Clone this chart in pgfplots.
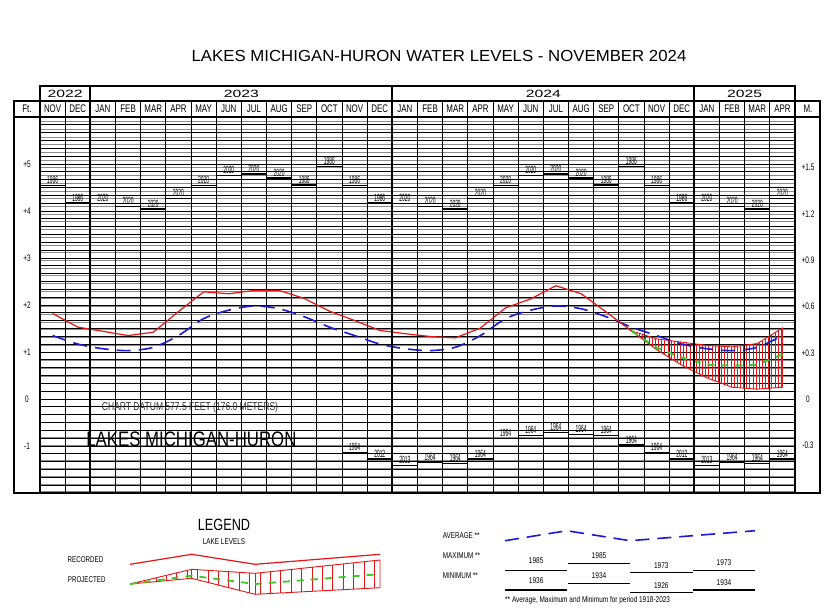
\documentclass[border=0pt]{standalone}
\usepackage{fontspec}
\setmainfont{Liberation Sans}
\newfontfamily\fA[FakeStretch=0.72]{Liberation Sans}
\newfontfamily\fB[FakeStretch=0.47]{Liberation Sans}
\newfontfamily\fC[FakeStretch=0.68]{Liberation Sans}
\newfontfamily\fW[FakeStretch=1.5]{Liberation Sans}
\usepackage{graphicx}
\usepackage{pgfplots}
\usepackage{pgfplotstable}
\pgfplotsset{compat=1.18}
\usetikzlibrary{patterns.meta}
\newcommand\sx[3]{\scalebox{#1}[1]{\fontsize{#2}{#2}\selectfont #3}}
\definecolor{recred}{RGB}{230,20,20}
\definecolor{avgblue}{RGB}{25,25,215}
\definecolor{projgreen}{RGB}{60,200,40}

\pgfplotstableread{
x y
0.5 1.82
1.5 1.53
2.5 1.44
3.5 1.35
4.5 1.42
5.5 1.86
6.5 2.28
7.5 2.24
8.5 2.31
9.5 2.31
10.5 2.14
11.5 1.87
12.5 1.67
13.5 1.46
14.5 1.39
15.5 1.33
16.5 1.30
17.5 1.51
18.5 1.94
19.5 2.13
20.5 2.41
21.5 2.24
22.5 1.85
23.5 1.45
}\recorded

\pgfplotstableread{
x y
0.5 1.35
1.5 1.17
2.5 1.07
3.5 1.03
4.5 1.10
5.5 1.35
6.5 1.71
7.5 1.89
8.5 1.98
9.5 1.92
10.5 1.75
11.5 1.53
12.5 1.35
13.5 1.17
14.5 1.07
15.5 1.03
16.5 1.10
17.5 1.35
18.5 1.71
19.5 1.89
20.5 1.98
21.5 1.92
22.5 1.75
23.5 1.53
24.5 1.35
25.5 1.17
26.5 1.07
27.5 1.03
28.5 1.10
29.5 1.35
}\average

\pgfplotstableread{
x y
23.5 1.45
24.5 1.28
25.5 1.21
26.5 1.14
27.5 1.11
28.5 1.18
29.5 1.51
29.5 0.25
28.5 0.21
27.5 0.25
26.5 0.45
25.5 0.72
24.5 1.05
23.5 1.45
}\projband

\pgfplotstableread{
x y
23.5 1.45
24.5 1.09
25.5 0.88
26.5 0.73
27.5 0.71
28.5 0.73
29.5 0.95
}\projmid

\pgfplotstableread{
x y lab
0.5 4.54 1986
1.5 4.17 1986
2.5 4.16 2020
3.5 4.10 2020
4.5 4.04 2020
5.5 4.26 2020
6.5 4.54 2020
7.5 4.76 2020
8.5 4.79 2020
9.5 4.70 2020
10.5 4.55 1986
11.5 4.95 1986
12.5 4.54 1986
13.5 4.17 1986
14.5 4.16 2020
15.5 4.10 2020
16.5 4.04 2020
17.5 4.26 2020
18.5 4.54 2020
19.5 4.76 2020
20.5 4.79 2020
21.5 4.70 2020
22.5 4.55 1986
23.5 4.95 1986
24.5 4.54 1986
25.5 4.17 1986
26.5 4.16 2020
27.5 4.10 2020
28.5 4.04 2020
29.5 4.26 2020
}\highs

\pgfplotstableread{
x y lab
12.5 -1.14 1964
13.5 -1.28 2012
14.5 -1.41 2013
15.5 -1.34 1964
16.5 -1.37 1964
17.5 -1.28 1964
18.5 -0.84 1964
19.5 -0.78 1964
20.5 -0.71 1964
21.5 -0.76 1964
22.5 -0.78 1964
23.5 -0.98 1964
24.5 -1.14 1964
25.5 -1.28 2012
26.5 -1.41 2013
27.5 -1.34 1964
28.5 -1.37 1964
29.5 -1.28 1964
}\lows

\begin{document}
\begin{tikzpicture}
\fill[white] (0,0) rectangle (827pt,-611pt);
\useasboundingbox (0,0) rectangle (827pt,-611pt);

% metric grid (gray) and metre labels
\begin{axis}[at={(40pt,-493pt)}, anchor=south west, width=755pt, height=376pt, scale only axis,
  xmin=0, xmax=30, ymin=-0.6096, ymax=1.8288,
  hide x axis, axis y line*=right, y axis line style={draw=none},
  ytick={-0.6,-0.3,0,0.3,0.6,0.9,1.2,1.5,1.8},
  yticklabels={,-0.3,0,+0.3,+0.6,+0.9,+1.2,+1.5,},
  minor y tick num=5, ymajorgrids, yminorgrids,
  major grid style={black!45, line width=0.6pt},
  minor grid style={black!45, line width=0.6pt},
  major tick length=0pt, minor tick length=0pt,
  yticklabel style={font=\fC\fontsize{9.5}{9.5}\selectfont, anchor=center, xshift=13pt},
]
\addplot[draw=none] coordinates {(0,0) (30,1)};
\end{axis}

% main chart
\begin{axis}[at={(40pt,-493pt)}, anchor=south west, width=755pt, height=376pt, scale only axis,
  xmin=0, xmax=30, ymin=-2, ymax=6,
  xtick={1,...,29}, xticklabels={}, xmajorgrids,
  ytick={-2,...,6}, yticklabels={,-1,0,+1,+2,+3,+4,+5,},
  minor y tick num=5, ymajorgrids, yminorgrids,
  major grid style={black, line width=0.7pt},
  minor grid style={black, line width=0.7pt},
  major tick length=0pt, minor tick length=0pt,
  axis line style={line width=1.6pt},
  yticklabel style={font=\fC\fontsize{9.5}{9.5}\selectfont, anchor=center, xshift=-13pt},
]
% record highs
\addplot[draw=none, mark=none, nodes near coords, point meta=explicit symbolic,
  nodes near coords style={font=\fB\fontsize{10.5}{10.5}\selectfont, anchor=south, inner sep=1.5pt, black},
  error bars/.cd, x dir=both, x fixed=0.5, error mark=none,
  error bar style={draw=black, solid, line width=1.4pt}] table[meta=lab]{\highs};
% record lows
\addplot[draw=none, mark=none, nodes near coords, point meta=explicit symbolic,
  nodes near coords style={font=\fB\fontsize{10.5}{10.5}\selectfont, anchor=south, inner sep=1.5pt, black},
  error bars/.cd, x dir=both, x fixed=0.5, error mark=none,
  error bar style={draw=black, solid, line width=1.4pt}] table[meta=lab]{\lows};
% projection band
\addplot[draw=recred, line width=0.9pt, pattern={Lines[angle=90,distance=3.15pt,line width=0.6pt]}, pattern color=recred] table{\projband} -- cycle;
% average
\addplot[avgblue, line width=1.6pt, dash pattern=on 14pt off 8pt, smooth, tension=0.5] table{\average};
% projected most probable
\addplot[projgreen, line width=2pt, dash pattern=on 7pt off 7pt] table{\projmid};
% recorded
\addplot[recred, line width=1.2pt] table{\recorded};
\end{axis}

% legend drawings
\begin{axis}[at={(0pt,-611pt)}, anchor=south west, width=827pt, height=611pt, scale only axis,
  xmin=0, xmax=827, ymin=0, ymax=611, y dir=reverse, axis lines=none, clip=false]
\addplot[recred, line width=1.2pt] coordinates {(130,564.3) (191.7,554.3) (255,564.3) (380,554.3)};
\addplot[draw=recred, line width=0.9pt, pattern={Lines[angle=90,distance=10.4pt,line width=0.8pt]}, pattern color=recred]
  coordinates {(130,584) (191.7,569.3) (255,573.3) (380,560) (380,587.7) (255,594.3) (191.7,578.3) (130,584)} -- cycle;
\addplot[recred, line width=0.9pt] coordinates {(191.7,569.3) (191.7,578.3)};
\addplot[recred, line width=0.9pt] coordinates {(255,573.3) (255,594.3)};
\addplot[projgreen, line width=1.8pt, dash pattern=on 7pt off 7pt] coordinates {(130,584) (191.7,575.7) (255,584) (378,574.3)};
\addplot[avgblue, line width=1.6pt, dash pattern=on 14pt off 8pt] coordinates {(505,540.7) (566.7,530.7) (630,540.7) (755,530.7)};
\addplot[draw=none, mark=none, error bars/.cd, x dir=both, x fixed=31.2, error mark=none,
  error bar style={draw=black, solid, line width=1.2pt}] coordinates {(536.2,570.3) (599,563.3) (661.3,572.7) (724,570.3)};
\addplot[draw=none, mark=none, error bars/.cd, x dir=both, x fixed=31.2, error mark=none,
  error bar style={draw=black, solid, line width=1.2pt}] coordinates {(536.2,590) (599,583.3) (661.3,592.7) (724,590)};
\end{axis}

\begin{scope}[x=1pt, y=-1pt]
% title
\node[inner sep=0] at (439,56.3) {\sx{1.05}{16}{LAKES MICHIGAN-HURON WATER LEVELS - NOVEMBER 2024}};
% frames
\draw[line width=1.5pt] (14,101) rectangle (40,493);
\draw[line width=1.5pt] (14,117) -- (40,117);
\draw[line width=1.5pt] (795,101) rectangle (820,493);
\draw[line width=1.5pt] (795,117) -- (820,117);
\draw[line width=1.5pt] (40,86) rectangle (795,117);
\draw[line width=1.2pt] (40,101) -- (795,101);
\foreach \i in {1,...,29} {
  \pgfmathsetmacro\xx{40+\i*25.16667}
  \draw[line width=0.8pt] (\xx,101) -- (\xx,117);
}
\foreach \xx in {90.333,392.333,694.333} {
  \draw[line width=1.8pt] (\xx,86) -- (\xx,493);
}
\node[inner sep=0] at (27,109) {\fA\fontsize{11}{11}\selectfont Ft.};
\node[inner sep=0] at (808,109) {\fA\fontsize{11}{11}\selectfont M.};
\foreach \m [count=\i from 0] in {NOV,DEC,JAN,FEB,MAR,APR,MAY,JUN,JUL,AUG,SEP,OCT,NOV,DEC,JAN,FEB,MAR,APR,MAY,JUN,JUL,AUG,SEP,OCT,NOV,DEC,JAN,FEB,MAR,APR} {
  \pgfmathsetmacro\xx{40+(\i+0.5)*25.16667}
  \node[inner sep=0] at (\xx,109) {\fA\fontsize{11}{11}\selectfont \m};
}
\node[inner sep=0] at (65.2,93.5) {\fW\fontsize{10.5}{10.5}\selectfont 2022};
\node[inner sep=0] at (241.3,93.5) {\fW\fontsize{10.5}{10.5}\selectfont 2023};
\node[inner sep=0] at (543.3,93.5) {\fW\fontsize{10.5}{10.5}\selectfont 2024};
\node[inner sep=0] at (744.7,93.5) {\fW\fontsize{10.5}{10.5}\selectfont 2025};
% chart texts
\node[inner sep=0, text=black!80] at (190,407.3) {\sx{0.74}{11.5}{CHART DATUM 577.5 FEET (176.0 METERS)}};
\node[inner sep=0] at (191.4,439) {\sx{0.80}{21}{LAKES MICHIGAN-HURON}};
% legend texts
\node[inner sep=0] at (224,525) {\sx{0.78}{16.3}{LEGEND}};
\node[inner sep=0] at (224,542) {\sx{0.75}{8.5}{LAKE LEVELS}};
\node[inner sep=0] at (85.5,560) {\sx{0.74}{8.4}{RECORDED}};
\node[inner sep=0] at (86.7,580) {\sx{0.74}{8.4}{PROJECTED}};
\node[inner sep=0, anchor=west] at (442.7,536) {\sx{0.75}{8.4}{AVERAGE **}};
\node[inner sep=0, anchor=west] at (442.7,556) {\sx{0.75}{8.4}{MAXIMUM **}};
\node[inner sep=0, anchor=west] at (442.7,576) {\sx{0.75}{8.4}{MINIMUM **}};
\node[inner sep=0] at (536.2,561) {\sx{0.78}{8.4}{1985}};
\node[inner sep=0] at (599,556) {\sx{0.78}{8.4}{1985}};
\node[inner sep=0] at (661.3,565.7) {\sx{0.78}{8.4}{1973}};
\node[inner sep=0] at (724,562.7) {\sx{0.78}{8.4}{1973}};
\node[inner sep=0] at (536.2,580.7) {\sx{0.78}{8.4}{1936}};
\node[inner sep=0] at (599,575.7) {\sx{0.78}{8.4}{1934}};
\node[inner sep=0] at (661.3,585.3) {\sx{0.78}{8.4}{1926}};
\node[inner sep=0] at (724,582.7) {\sx{0.78}{8.4}{1934}};
\node[inner sep=0, anchor=west] at (505,600.7) {\sx{0.77}{8.4}{** Average, Maximum and Minimum for period 1918-2023}};
\end{scope}
\end{tikzpicture}
\end{document}
